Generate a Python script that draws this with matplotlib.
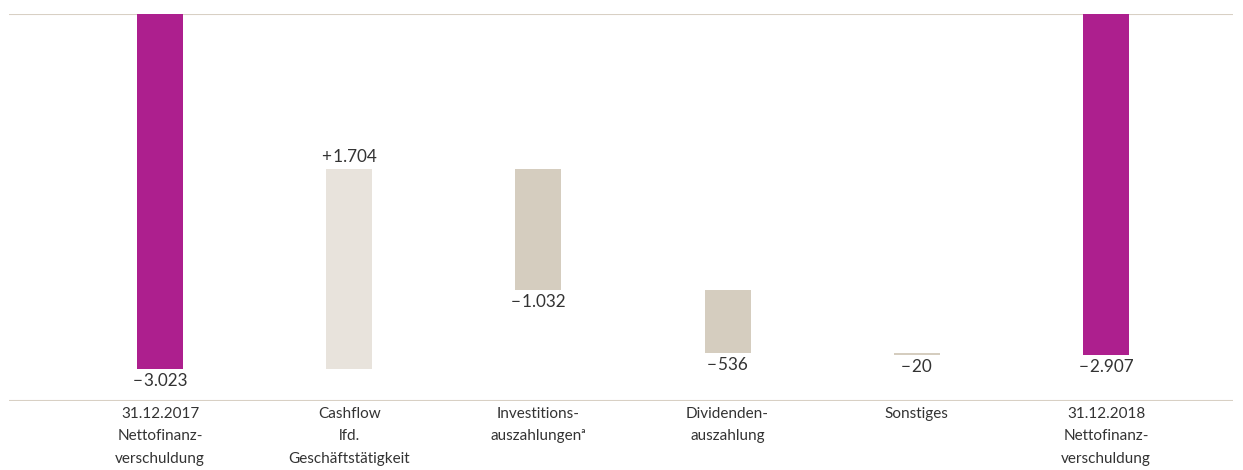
import matplotlib
matplotlib.use("Agg")
import matplotlib.pyplot as plt
import matplotlib.transforms as mtransforms

categories = ["31.12.2017\nNettofinanz-\nverschuldung",
              "Cashflow\nlfd.\nGeschäftstätigkeit",
              "Investitions-\nauszahlungen\u1d43",
              "Dividenden-\nauszahlung",
              "Sonstiges",
              "31.12.2018\nNettofinanz-\nverschuldung"]
start_value = -3023
changes = [1704, -1032, -536, -20]
end_value = -2907
value_labels = ["\u2212\u200a3.023", "+\u200a1.704", "\u2212\u200a1.032", "\u2212\u200a536", "\u2212\u200a20", "\u2212\u200a2.907"]

MAGENTA = "#AD1F8E"
LIGHT = "#E8E3DC"
GREY = "#D5CDBF"
LINE = "#D8D0C4"
TXT = "#333333"

plt.rcParams['font.family'] = ['Lato', 'DejaVu Sans']

fig = plt.figure(figsize=(12.43, 4.70), dpi=100)
W, H = 1243, 470
left, right, top, bottom = 9, 1233, 14, 401
ax = fig.add_axes([left / W, 1 - bottom / H, (right - left) / W, (bottom - top) / H])

bw = 0.243
bottoms = []
heights = []
colors = []
bottoms.append(0); heights.append(start_value); colors.append(MAGENTA)
level = start_value
for c in changes:
    bottoms.append(level)
    heights.append(c)
    colors.append(LIGHT if c > 0 else GREY)
    level += c
bottoms.append(0); heights.append(end_value); colors.append(MAGENTA)

xs = list(range(len(categories)))
ax.bar(xs, heights, bottom=bottoms, width=bw, color=colors, linewidth=0)

for x, b, h, lab in zip(xs, bottoms, heights, value_labels):
    off = 8.3 if h > 0 else -8.5
    ax.annotate(lab, (x, b + h), xytext=(0, off), textcoords='offset points',
                ha='center', va='center', fontsize=12.3, color=TXT)

ax.set_xlim(-0.798, 5.671)
ax.set_ylim(-3296, 0)
ax.axhline(0, color=LINE, lw=1.5, zorder=0)
ax.axhline(-3296, color=LINE, lw=1.5, zorder=0)
for s in ax.spines.values():
    s.set_visible(False)
ax.set_xticks([])
ax.set_yticks([])

trans = mtransforms.blended_transform_factory(ax.transData, ax.transAxes)
for x, cat in zip(xs, categories):
    ax.text(x, 0, cat, ha='center', va='top', fontsize=11,
            color=TXT, linespacing=1.75,
            transform=trans + mtransforms.ScaledTranslation(0, -6 / 100, fig.dpi_scale_trans))

fig.savefig("out.png", dpi=100)
